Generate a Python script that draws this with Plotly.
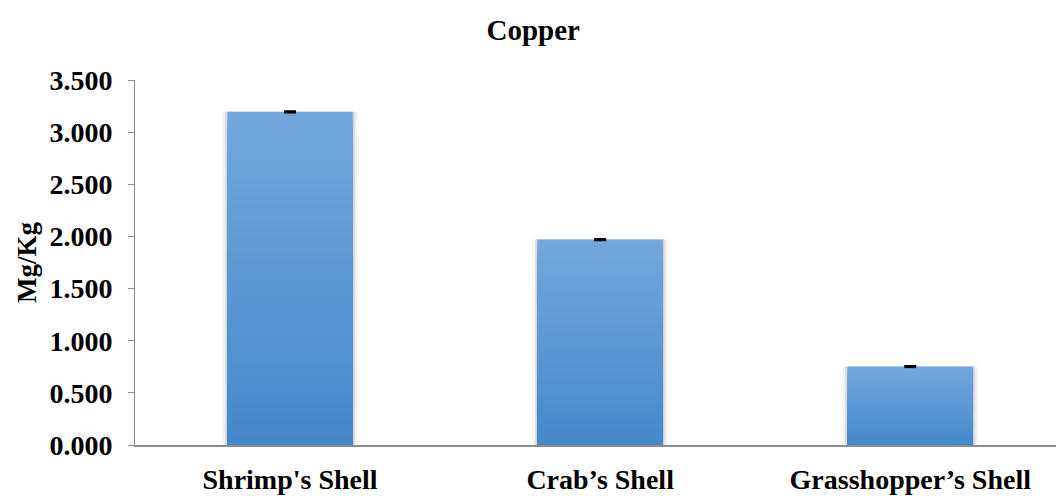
import plotly.graph_objects as go

# Copper content per shell type (Mg/Kg)
categories = ["Shrimp's Shell", "Crab\u2019s Shell", "Grasshopper\u2019s Shell"]
copper = [3.195, 1.97, 0.752]
errors = [0.006, 0.006, 0.006]
y_ticks = [0.0, 0.5, 1.0, 1.5, 2.0, 2.5, 3.0, 3.5]

FONT = "Liberation Serif"
TOP_RGB = (113, 167, 220)
BOTTOM_RGB = (67, 136, 203)
N_LAYERS = 40

fig = go.Figure()

# soft shadow behind each bar
for w, a in [(0.435, 0.05), (0.42, 0.08), (0.41, 0.10)]:
    fig.add_trace(go.Bar(
        x=categories, y=copper, width=w,
        marker=dict(color=f"rgba(0,0,0,{a})", line=dict(width=0)),
        hoverinfo="skip", showlegend=False,
    ))

# vertical gradient built from stacked overlays: tallest layer first
for k in range(N_LAYERS, 0, -1):
    f = k / N_LAYERS
    r = round(BOTTOM_RGB[0] + (TOP_RGB[0] - BOTTOM_RGB[0]) * f)
    g = round(BOTTOM_RGB[1] + (TOP_RGB[1] - BOTTOM_RGB[1]) * f)
    b = round(BOTTOM_RGB[2] + (TOP_RGB[2] - BOTTOM_RGB[2]) * f)
    fig.add_trace(go.Bar(
        x=categories, y=[v * f for v in copper], width=0.403,
        marker=dict(color=f"rgb({r},{g},{b})", line=dict(width=0)),
        error_y=dict(type="data", array=errors, color="black",
                     thickness=2, width=6, visible=(k == N_LAYERS)),
        hoverinfo="skip" if k != N_LAYERS else None,
        showlegend=False,
    ))

fig.update_layout(
    width=1056, height=496,
    barmode="overlay",
    plot_bgcolor="white", paper_bgcolor="white",
    margin=dict(l=135, r=0, t=80, b=51),
    title=dict(text="<b>Copper</b>", x=0.505, xanchor="center", y=0.94, yanchor="middle",
               font=dict(family=FONT, size=29, color="black")),
    font=dict(family=FONT, color="black"),
    xaxis=dict(
        type="category", range=[-0.5, 2.47],
        showline=True, linecolor="#8c8c8c", linewidth=2,
        ticks="", showgrid=False, zeroline=False,
        tickfont=dict(family=FONT, size=28, color="black"),
        ticklabelstandoff=8,
    ),
    yaxis=dict(
        range=[0, 3.5], tickvals=y_ticks, tickformat=".3f",
        showline=True, linecolor="#8c8c8c", linewidth=1,
        ticks="outside", ticklen=6, tickcolor="#8c8c8c",
        showgrid=False, zeroline=False,
        tickfont=dict(family=FONT, size=28, color="black"),
        ticklabelstandoff=10,
        title=dict(text="<b>Mg/Kg</b>", standoff=4,
                   font=dict(family=FONT, size=27, color="black")),
    ),
)

# bold tick labels
fig.update_xaxes(ticktext=[f"<b>{c}</b>" for c in categories], tickvals=categories)
fig.update_yaxes(ticktext=[f"<b>{v:.3f}</b>" for v in y_ticks])

fig.write_html("out.html")
